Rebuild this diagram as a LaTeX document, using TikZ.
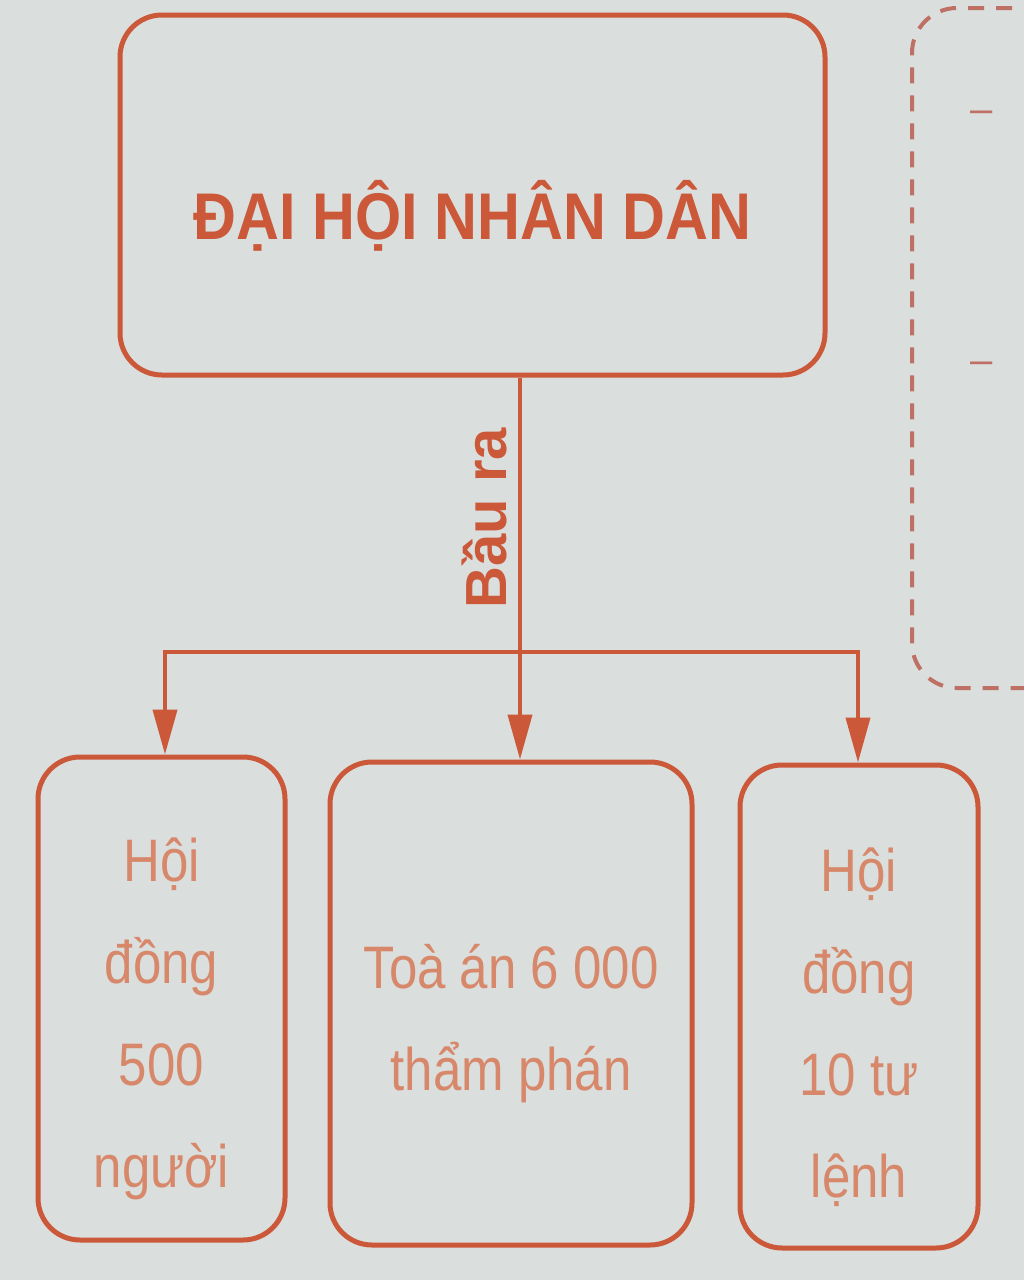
\documentclass[tikz,border=0pt]{standalone}
\usepackage{fontspec}
\setmainfont{Liberation Sans}
\newfontfamily\nfont[FakeStretch=0.85]{Liberation Sans}
\newfontfamily\tfont[FakeStretch=0.9]{Liberation Sans}
\usetikzlibrary{arrows.meta}
\definecolor{bg}{RGB}{218,222,220}
\definecolor{ln}{RGB}{204,88,58}
\definecolor{tx}{RGB}{216,136,106}
\definecolor{dsh}{RGB}{190,112,100}
\newcommand{\lowstrut}{\rule{0pt}{85pt}}
\begin{document}
\begin{tikzpicture}[x=1pt,y=-1pt,
  box/.style={draw=ln, line width=5pt, rounded corners=42pt, inner sep=0pt, align=center},
  lowbox/.style={box, minimum height=483pt, text=tx, font=\nfont\fontsize{60}{102}\selectfont},
  conn/.style={draw=ln, line width=4pt},
  arr/.style={conn, -{Triangle[length=45pt,width=24pt]}},
  dashbox/.style={draw=dsh, line width=4pt, dash pattern=on 16pt off 12pt, rounded corners=45pt},
  dashmark/.style={text=dsh, font=\fontsize{40}{40}\selectfont}]
\fill[bg] (0,0) rectangle (1024,1280);
\useasboundingbox (0,0) rectangle (1024,1280);
% top box
\node[box, minimum width=705pt, minimum height=360pt, text=ln,
      font=\tfont\bfseries\fontsize{66}{70}\selectfont,
      text height=88pt, text depth=0pt] (top) at (472.5,195) {ĐẠI HỘI NHÂN DÂN};
% lower boxes
\node[lowbox, minimum width=247pt] (lft) at (161.5,998.5) {\lowstrut Hội\\đồng\\500\\người};
\node[lowbox, minimum width=362pt] (mid) at (511,1003.5) {\lowstrut Toà án 6 000\\thẩm phán};
\node[lowbox, minimum width=238pt] (rgt) at (859,1006.5) {\lowstrut Hội\\đồng\\10 tư\\lệnh};
% dashed box on the right
\draw[dashbox] (1040,8) -- (912,8) -- (912,688) -- (1040,688);
\node[dashmark] (m1) at (982,117) {–};
\node[dashmark] (m2) at (982,368) {–};
% connectors
\coordinate (jm) at (520,652);
\coordinate (jl) at (165,652);
\coordinate (jr) at (858,652);
\draw[arr] (top.south -| jm) -- (jm |- mid.north);
\draw[arr] (jr) -- (jl) -- (jl |- lft.north);
\draw[arr] (jl) -- (jr) -- (jr |- rgt.north);
\node[rotate=90, text=ln, font=\bfseries\fontsize{58}{60}\selectfont] (lbl) at (484,518) {Bầu ra};
\end{tikzpicture}
\end{document}
